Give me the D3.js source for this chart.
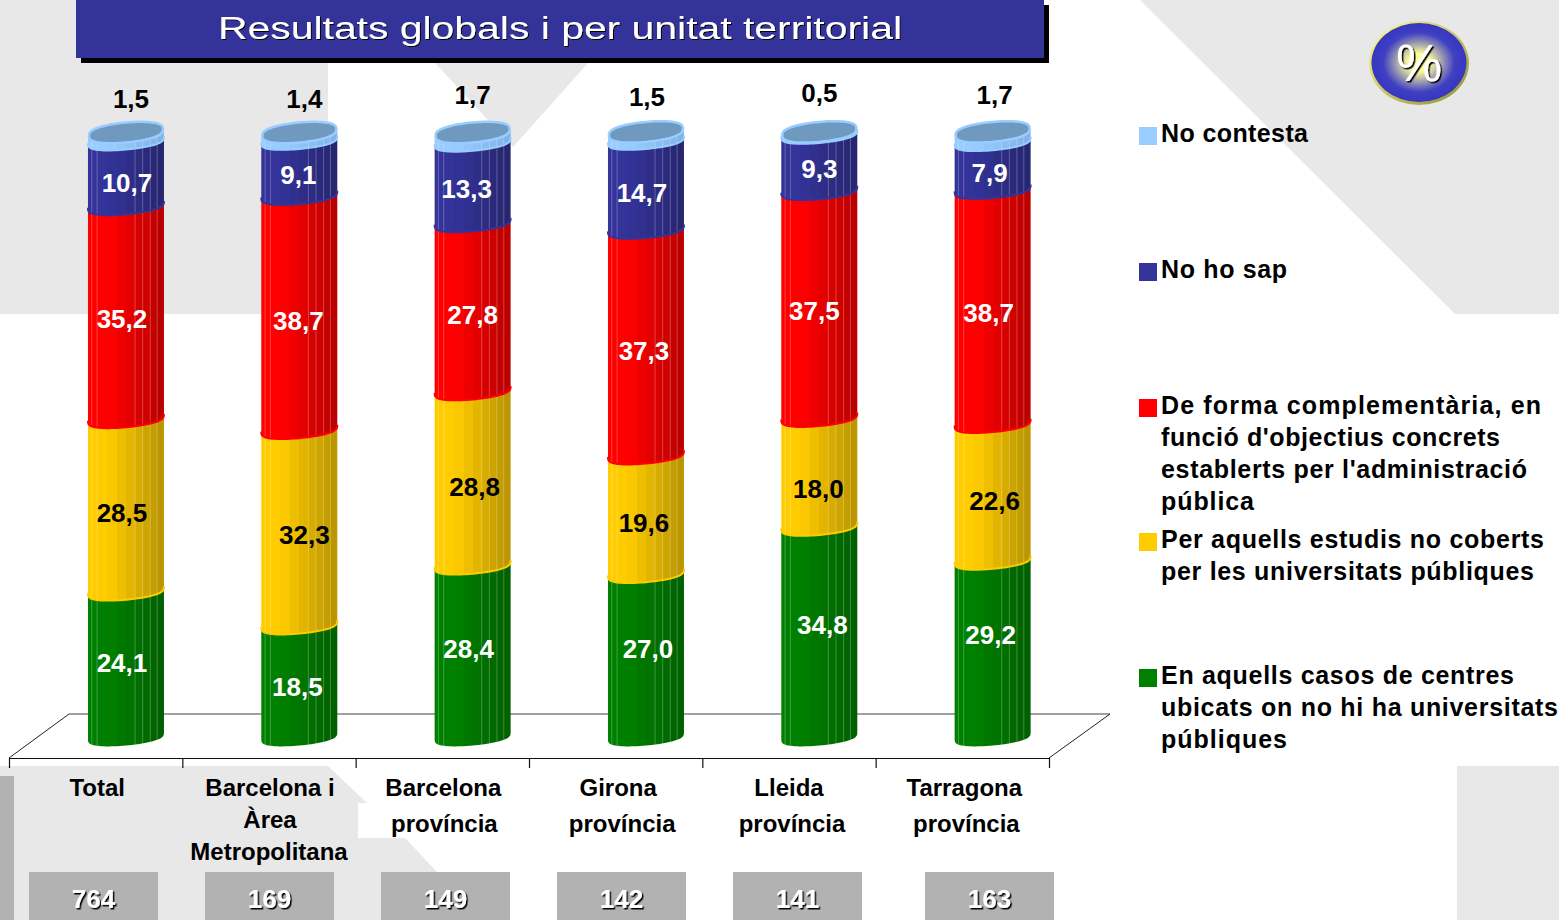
<!DOCTYPE html>
<html lang="ca">
  <head>
    <meta charset="UTF-8" />
    <title>Resultats globals i per unitat territorial</title>
    <script src="https://d3js.org/d3.v7.min.js"></script>
    <style>
      html, body { margin: 0; padding: 0; background: #fff; }
      svg { display: block; }
      text { font-family: "Liberation Sans", Arial, sans-serif; }
      .bold { font-weight: bold; }
    </style>
  </head>
  <body>
    <svg width="1559" height="920"></svg>
    <script>
      // data
      const categories = ["Total", "Barcelona i Àrea Metropolitana", "Barcelona província", "Girona província", "Lleida província", "Tarragona província"];
      const categoryLines = [["Total"], ["Barcelona i", "Àrea", "Metropolitana"], ["Barcelona", "província"], ["Girona", "província"], ["Lleida", "província"], ["Tarragona", "província"]];
      const sampleSizes = [764, 169, 149, 142, 141, 163];
      const casosCentres = [24.1, 18.5, 28.4, 27.0, 34.8, 29.2];
      const estudisNoCoberts = [28.5, 32.3, 28.8, 19.6, 18.0, 22.6];
      const complementaria = [35.2, 38.7, 27.8, 37.3, 37.5, 38.7];
      const noHoSap = [10.7, 9.1, 13.3, 14.7, 9.3, 7.9];
      const noContesta = [1.5, 1.4, 1.7, 1.5, 0.5, 1.7];

      const seriesValues = [casosCentres, estudisNoCoberts, complementaria, noHoSap, noContesta];
      const seriesLight = ["#008000", "#ffcc00", "#ff0000", "#333399", "#99ccff"];
      const seriesDark = ["#005f00", "#b89300", "#b80000", "#26266f", "#7fb2e6"];
      const labelColors = ["#fff", "#000", "#fff", "#fff", "#000"];

      // hand placed labels, same as in the original chart
      const labelDx = [[-4, -2, -4, 2, 3, -2], [-4, 5, 2, -2, -1, 2], [-4, -1, 0, -2, -5, -4], [1, -1, -6, -4, 0, -3], [5, 5, 0, 1, 0, 2]];
      const labelDy = [[0, 7.5, -1, -5, -6, -13], [9.5, 9, 10, 10, 18, 10], [8, 10, 9, 10, 8, 8], [11, 8.5, 8, 9, 8, 9], [-36, -36, -41, -38, -39, -40]];

      const legendEntries = [
        { color: 4, lines: ["No contesta"], widths: [147], top: 133 },
        { color: 3, lines: ["No ho sap"], widths: [126], top: 269 },
        { color: 2, lines: ["De forma complementària, en", "funció d'objectius concrets", "establerts per l'administració", "pública"], widths: [380, 339, 366, 93], top: 405 },
        { color: 1, lines: ["Per aquells estudis no coberts", "per les universitats públiques"], widths: [383, 373], top: 539 },
        { color: 0, lines: ["En aquells casos de centres", "ubicats on no hi ha universitats", "públiques"], widths: [353, 397, 126], top: 675 },
      ];

      const facets = [0.05, 0.12, 0.62, 0.72, 0.82, 0.91];
      const bandStops = [0, 0.05, 0.12, 0.25, 0.38, 0.5, 0.62, 0.72, 0.82, 0.91, 1];

      const svg = d3.select("svg");
      const defs = svg.append("defs");

      const grey = "#e8e8e8";
      const backgroundShapes = [
        [[0, 0], [328, 0], [328, 314], [0, 314]],
        [[435, 63], [588, 63], [513, 147]],
        [[1140, 0], [1559, 0], [1559, 314], [1455, 314]],
        [[0, 766], [328, 766], [367, 803], [358, 803], [358, 838], [405, 838], [437, 872], [485, 920], [0, 920]],
        [[1457, 766], [1559, 766], [1559, 920], [1457, 920]],
      ];
      svg.append("g").selectAll("polygon").data(backgroundShapes).join("polygon")
        .attr("points", (d) => d.join(" "))
        .attr("fill", grey);
      svg.append("rect").attr("x", 0).attr("y", 776).attr("width", 14).attr("height", 144).attr("fill", "#b2b2b2");

      // filters for the shadowed text
      const shadow = defs.append("filter").attr("id", "shadow").attr("x", "-10%").attr("y", "-20%").attr("width", "120%").attr("height", "150%");
      shadow.append("feDropShadow").attr("dx", 1.5).attr("dy", 1.5).attr("stdDeviation", 0.3).attr("flood-color", "#000");
      const thinShadow = defs.append("filter").attr("id", "thinShadow").attr("x", "-5%").attr("y", "-20%").attr("width", "110%").attr("height", "150%");
      thinShadow.append("feDropShadow").attr("dx", 1).attr("dy", 1).attr("stdDeviation", 0.2).attr("flood-color", "#000");

      // title bar
      svg.append("rect").attr("x", 81).attr("y", 5).attr("width", 968).attr("height", 58).attr("fill", "#000");
      svg.append("rect").attr("x", 76).attr("y", 0).attr("width", 968).attr("height", 58).attr("fill", "#333399");
      svg.append("text").attr("x", 218).attr("y", 39).attr("font-size", 31).attr("fill", "#fff")
        .attr("textLength", 684).attr("lengthAdjust", "spacingAndGlyphs").attr("filter", "url(#thinShadow)")
        .text("Resultats globals i per unitat territorial");

      // scales
      const x = d3.scaleBand().domain(categories).range([9, 1049]);
      const y = d3.scaleLinear().domain([0, 100]).range([735.5, 130.5]);
      const depthX = 30.3;
      const rx = 38, ry = 10, shear = 0.09, bulge = 0.6;

      // floor
      const floor = svg.append("g");
      floor.append("line").attr("x1", 69).attr("x2", 1110).attr("y1", 714).attr("y2", 714).attr("stroke", "#808080").attr("stroke-width", 1.5);
      floor.append("line").attr("x1", 9).attr("x2", 69).attr("y1", 758).attr("y2", 714).attr("stroke", "#222");
      floor.append("line").attr("x1", 1049).attr("x2", 1110).attr("y1", 758).attr("y2", 714).attr("stroke", "#222");

      const edges = d3.scaleLinear().domain([0, categories.length]).range([9, 1049]);
      const axis = d3.axisBottom(edges).ticks(categories.length).tickFormat("").tickSize(10).tickSizeOuter(0);
      const axisG = svg.append("g").attr("transform", "translate(0,758)").call(axis);
      axisG.selectAll("path,line").attr("stroke", "#111").attr("stroke-width", 1.2);

      // stepped gradients, one per series
      seriesLight.forEach((c, i) => {
        const mix = d3.interpolateRgb(c, seriesDark[i]);
        const g = defs.append("linearGradient").attr("id", "band" + i);
        bandStops.slice(0, -1).forEach((s, k) => {
          const t = Math.max(0, (s - 0.2) / 0.75);
          g.append("stop").attr("offset", s).attr("stop-color", mix(t));
          g.append("stop").attr("offset", bandStops[k + 1]).attr("stop-color", mix(t));
        });
      });

      // front edge of a slice of the cylinder, a bit squarer than an ellipse
      function frontEdge(cx, yc) {
        return d3.range(0, 41).map((i) => {
          const t = Math.PI - (i * Math.PI) / 40;
          const px = cx + rx * Math.cos(t);
          return [px, yc + ry * Math.pow(Math.max(0, Math.sin(t)), bulge) - shear * (px - cx)];
        });
      }
      function edgeAt(cx, yc, px) {
        const c = (px - cx) / rx;
        return yc + ry * Math.pow(Math.max(0, 1 - c * c), bulge / 2) - shear * (px - cx);
      }
      const line = d3.line();

      const bars = svg.append("g");
      categories.forEach((cat, b) => {
        const cx = x(cat) + x.bandwidth() / 2 + depthX;
        let cum = 0;
        seriesValues.forEach((vals, s) => {
          const lo = y(cum);
          const hi = y(cum + vals[b]);
          const top = frontEdge(cx, hi);
          const bottom = frontEdge(cx, lo).reverse();
          bars.append("path")
            .attr("d", line(top.concat(bottom)) + "Z")
            .attr("fill", `url(#band${s})`);
          facets.forEach((f) => {
            const px = cx - rx + f * 2 * rx;
            bars.append("line")
              .attr("x1", px).attr("x2", px)
              .attr("y1", edgeAt(cx, hi, px)).attr("y2", edgeAt(cx, lo, px))
              .attr("stroke", "#fff").attr("stroke-opacity", 0.25).attr("stroke-width", 1);
          });
          // lip of this slice over the one below
          if (s > 0) {
            bars.append("path").attr("d", line(bottom)).attr("fill", "none")
              .attr("stroke", seriesLight[s]).attr("stroke-width", 2);
          }
          cum += vals[b];
        });
        // open top of the cylinder
        const cap = d3.range(0, 81).map((i) => {
          const t = (i * Math.PI) / 40;
          const px = cx + (rx - 1) * Math.cos(t);
          const sn = Math.sin(t);
          return [px, y(cum) + 2 + ry * Math.sign(sn) * Math.pow(Math.abs(sn), 0.75) - shear * (px - cx)];
        });
        bars.append("path").attr("d", line(cap) + "Z")
          .attr("fill", "#7099c0").attr("stroke", "#99ccff").attr("stroke-width", 2.5);
      });

      // value labels
      const labels = svg.append("g").attr("class", "bold").attr("font-size", 26).attr("text-anchor", "middle");
      categories.forEach((cat, b) => {
        const cx = x(cat) + x.bandwidth() / 2 + depthX;
        let cum = 0;
        seriesValues.forEach((vals, s) => {
          labels.append("text")
            .attr("x", cx + labelDx[s][b])
            .attr("y", y(cum + vals[b] / 2) + labelDy[s][b])
            .attr("dy", "0.36em")
            .attr("fill", labelColors[s])
            .text(d3.format(".1f")(vals[b]).replace(".", ","));
          cum += vals[b];
        });
      });

      // category labels, the second line sits a little off centre in the original
      const catNudge = [[1.5], [1, 1, 0], [1, 2], [2.5, 6.5], [0, 3], [2, 4]];
      const catGroup = svg.append("g").attr("class", "bold").attr("font-size", 24).attr("text-anchor", "middle").attr("fill", "#000");
      categories.forEach((cat, b) => {
        const lineStep = categoryLines[b].length > 2 ? 32 : 35.5;
        categoryLines[b].forEach((t, k) => {
          catGroup.append("text")
            .attr("x", x(cat) + x.bandwidth() / 2 + catNudge[b][k])
            .attr("y", 796 + k * lineStep)
            .text(t);
        });
      });

      // sample size boxes
      const boxX = d3.scalePoint().domain(categories).range([93.5, 973.5]);
      const boxDx = [0, 0, 0, 0, 0, 16];
      const boxes = svg.append("g");
      boxes.selectAll("rect").data(categories).join("rect")
        .attr("x", (d, i) => boxX(d) + boxDx[i] - 64.5)
        .attr("y", 872).attr("width", 129).attr("height", 48)
        .attr("fill", "#b2b2b2");
      boxes.selectAll("text").data(sampleSizes).join("text")
        .attr("class", "bold")
        .attr("x", (d, i) => boxX(categories[i]) + boxDx[i])
        .attr("y", 908).attr("font-size", 26).attr("text-anchor", "middle")
        .attr("fill", "#fff").attr("filter", "url(#shadow)")
        .text((d) => d);

      // legend
      const legend = svg.append("g");
      legendEntries.forEach((e) => {
        legend.append("rect").attr("x", 1139).attr("y", e.top - 6).attr("width", 18).attr("height", 18).attr("fill", seriesLight[e.color]);
        e.lines.forEach((t, k) => {
          legend.append("text").attr("class", "bold")
            .attr("x", 1161).attr("y", e.top + 9 + k * 32)
            .attr("font-size", 25)
            .attr("textLength", e.widths[k]).attr("lengthAdjust", "spacing")
            .text(t);
        });
      });

      // % badge
      const badgeFill = defs.append("radialGradient").attr("id", "badge");
      badgeFill.append("stop").attr("offset", "0%").attr("stop-color", "#ffff99");
      badgeFill.append("stop").attr("offset", "22%").attr("stop-color", "#ffff99");
      badgeFill.append("stop").attr("offset", "75%").attr("stop-color", "#4040c4");
      badgeFill.append("stop").attr("offset", "100%").attr("stop-color", "#3636c0");
      const rim = defs.append("linearGradient").attr("id", "rim").attr("x1", 0).attr("y1", 0).attr("x2", 1).attr("y2", 1);
      rim.append("stop").attr("offset", "0%").attr("stop-color", "#ffff99");
      rim.append("stop").attr("offset", "100%").attr("stop-color", "#8f8f33");
      svg.append("ellipse").attr("cx", 1419).attr("cy", 63).attr("rx", 50).attr("ry", 42).attr("fill", "url(#rim)");
      svg.append("ellipse").attr("cx", 1419).attr("cy", 62.5).attr("rx", 47.5).attr("ry", 39.5).attr("fill", "url(#badge)");
      svg.append("text").attr("x", 1419).attr("y", 81).attr("font-size", 52).attr("text-anchor", "middle")
        .attr("fill", "#fff").attr("filter", "url(#shadow)").text("%");
    </script>
  </body>
</html>
